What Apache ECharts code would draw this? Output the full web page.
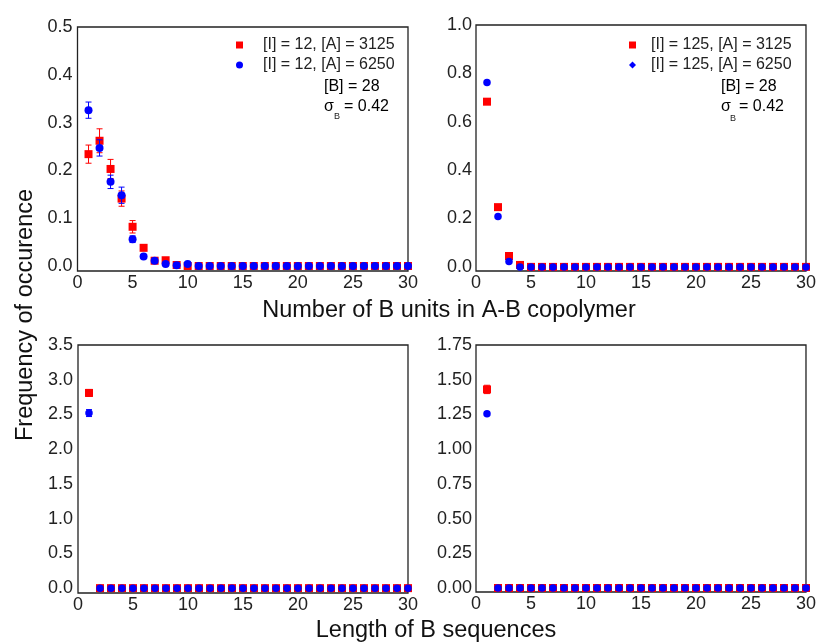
<!DOCTYPE html>
<html><head><meta charset="utf-8">
<script src="https://cdn.jsdelivr.net/npm/echarts@6/dist/echarts.min.js"></script>
<style>html,body{margin:0;padding:0;background:#fff}#c{width:819px;height:643px}</style>
</head><body><div id="c"></div>
<script>
// ---------- data ----------
const xPositions = [1,2,3,4,5,6,7,8,9,10,11,12,13,14,15,16,17,18,19,20,21,22,23,24,25,26,27,28,29,30];
const xTicks = [0,5,10,15,20,25,30];

// Top-left: number of B units, [I] = 12
const unitsI12A3125 = [0.234,0.262,0.203,0.141,0.082,0.038,0.011,0.012,0.002,0,0,0,0,0,0,0,0,0,0,0,0,0,0,0,0,0,0,0,0,0];
const unitsI12A3125Err = [0.019,0.025,0.020,0.016,0.013,0.006,0.003,0.003,0.002,0,0,0,0,0,0,0,0,0,0,0,0,0,0,0,0,0,0,0,0,0];
const unitsI12A6250 = [0.326,0.247,0.176,0.148,0.056,0.020,0.011,0.004,0.0015,0.004,0,0,0,0,0,0,0,0,0,0,0,0,0,0,0,0,0,0,0,0];
const unitsI12A6250Err = [0.017,0.017,0.014,0.017,0.007,0.004,0.002,0.002,0,0.002,0,0,0,0,0,0,0,0,0,0,0,0,0,0,0,0,0,0,0,0];

// Top-right: number of B units, [I] = 125
const unitsI125A3125 = [0.683,0.247,0.045,0.008,0,0,0,0,0,0,0,0,0,0,0,0,0,0,0,0,0,0,0,0,0,0,0,0,0,0];
const unitsI125A3125Err = [0.008,0.006,0.004,0.002,0,0,0,0,0,0,0,0,0,0,0,0,0,0,0,0,0,0,0,0,0,0,0,0,0,0];
const unitsI125A6250 = [0.762,0.208,0.022,0,0,0,0,0,0,0,0,0,0,0,0,0,0,0,0,0,0,0,0,0,0,0,0,0,0,0];
const unitsI125A6250Err = [0.006,0.005,0.003,0,0,0,0,0,0,0,0,0,0,0,0,0,0,0,0,0,0,0,0,0,0,0,0,0,0,0];

// Bottom-left: length of B sequences, [I] = 12 (zero entries start at length 2)
const lenI12A3125 = [2.81,0,0,0,0,0,0,0,0,0,0,0,0,0,0,0,0,0,0,0,0,0,0,0,0,0,0,0,0,0];
const lenI12A3125Err = [0.05,0,0,0,0,0,0,0,0,0,0,0,0,0,0,0,0,0,0,0,0,0,0,0,0,0,0,0,0,0];
const lenI12A6250 = [2.52,0,0,0,0,0,0,0,0,0,0,0,0,0,0,0,0,0,0,0,0,0,0,0,0,0,0,0,0,0];
const lenI12A6250Err = [0.05,0,0,0,0,0,0,0,0,0,0,0,0,0,0,0,0,0,0,0,0,0,0,0,0,0,0,0,0,0];

// Bottom-right: length of B sequences, [I] = 125
const lenI125A3125 = [1.43,0,0,0,0,0,0,0,0,0,0,0,0,0,0,0,0,0,0,0,0,0,0,0,0,0,0,0,0,0];
const lenI125A3125Err = [0.03,0,0,0,0,0,0,0,0,0,0,0,0,0,0,0,0,0,0,0,0,0,0,0,0,0,0,0,0,0];
const lenI125A6250 = [1.255,0,0,0,0,0,0,0,0,0,0,0,0,0,0,0,0,0,0,0,0,0,0,0,0,0,0,0,0,0];
const lenI125A6250Err = [0.012,0,0,0,0,0,0,0,0,0,0,0,0,0,0,0,0,0,0,0,0,0,0,0,0,0,0,0,0,0];

const yTicksTL = [0,0.1,0.2,0.3,0.4,0.5];
const yTicksTR = [0,0.2,0.4,0.6,0.8,1.0];
const yTicksBL = [0,0.5,1.0,1.5,2.0,2.5,3.0,3.5];
const yTicksBR = [0,0.25,0.5,0.75,1.0,1.25,1.5,1.75];

const names = {
  tlRed: '[I] = 12, [A] = 3125', tlBlue: '[I] = 12, [A] = 6250',
  trRed: '[I] = 125, [A] = 3125', trBlue: '[I] = 125, [A] = 6250'
};

// ---------- chart ----------
const FONT = '"Liberation Sans", Arial, Helvetica, sans-serif';
const RED = '#ff0000', BLUE = '#0000ff';
const chart = echarts.init(document.getElementById('c'));

function bars(ys, es){ return xPositions.map((x,i)=>[x, ys[i]-es[i], ys[i]+es[i]]).filter((d,i)=>es[i]>0); }
function errSeries(idx, ys, es, color, z){
  return {
    type:'custom', xAxisIndex:idx, yAxisIndex:idx, z:z, silent:true,
    encode:{x:0, y:[1,2]},
    data: bars(ys, es),
    renderItem:function(params, api){
      const x = api.value(0);
      const lo = api.coord([x, api.value(1)]);
      const hi = api.coord([x, api.value(2)]);
      const w = 3;
      const st = {stroke:color, lineWidth:1};
      return {type:'group', children:[
        {type:'line', shape:{x1:lo[0], y1:lo[1], x2:hi[0], y2:hi[1]}, style:st},
        {type:'line', shape:{x1:hi[0]-w, y1:hi[1], x2:hi[0]+w, y2:hi[1]}, style:st},
        {type:'line', shape:{x1:lo[0]-w, y1:lo[1], x2:lo[0]+w, y2:lo[1]}, style:st}
      ]};
    }
  };
}
function scat(idx, name, ys, color, symbol, size, z, skipZeroFirst){
  let data = xPositions.map((x,i)=>[x, ys[i]]);
  if (skipZeroFirst) data = data.filter(d=>!(d[0]===1 && d[1]===0));
  return {type:'scatter', name:name, xAxisIndex:idx, yAxisIndex:idx, z:z,
    symbol:symbol, symbolSize:size, itemStyle:{color:color, opacity:1}, data:data};
}
function xAx(idx){
  return {type:'value', gridIndex:idx, min:0, max:30, interval:5,
    axisLine:{show:false}, axisTick:{show:false}, splitLine:{show:false},
    axisLabel:{fontSize:18, color:'#222', fontFamily:FONT, margin:3, customValues:xTicks}};
}
function yAx(idx, min, max, ticks, dec, margin){
  return {type:'value', gridIndex:idx, min:min, max:max,
    axisLine:{show:false}, axisTick:{show:false}, splitLine:{show:false},
    axisLabel:{fontSize:18, color:'#222', fontFamily:FONT, margin:margin,
      customValues:ticks, formatter:v=>v.toFixed(dec)}};
}
const gridStyle = {show:true, borderColor:'#222', borderWidth:1.3, backgroundColor:'transparent'};

const legendText = {fontSize:16, color:'#222', fontFamily:FONT};
const titleStyle = {fontSize:23.5, fill:'#111', fontFamily:FONT, align:'center', verticalAlign:'middle'};

const option = {
  animation:false,
  backgroundColor:'#fff',
  grid:[
    Object.assign({left:77.5, top:27, width:330.5, height:244}, gridStyle),
    Object.assign({left:476, top:25, width:332, height:246}, gridStyle),
    Object.assign({left:78, top:345, width:330, height:248}, gridStyle),
    Object.assign({left:476, top:345, width:332, height:247}, gridStyle)
  ],
  xAxis:[xAx(0), xAx(1), xAx(2), xAx(3)],
  yAxis:[
    yAx(0, -0.0105, 0.5, yTicksTL, 1, 5),
    yAx(1, -0.017, 1.0, yTicksTR, 1, 4),
    yAx(2, -0.07, 3.5, yTicksBL, 1, 5),
    yAx(3, -0.029, 1.75, yTicksBR, 2, 4)
  ],
  legend:[
    {left:236, top:37, orient:'vertical', padding:0, itemWidth:7, itemHeight:7, itemGap:4,
     selectedMode:false, textStyle:Object.assign({padding:[0,0,0,15], lineHeight:16}, legendText),
     data:[{name:names.tlRed, icon:'rect'}, {name:names.tlBlue, icon:'circle'}]},
    {left:629, top:37, orient:'vertical', padding:0, itemWidth:7, itemHeight:7, itemGap:4,
     selectedMode:false, textStyle:Object.assign({padding:[0,0,0,10], lineHeight:16}, legendText),
     data:[{name:names.trRed, icon:'rect'}, {name:names.trBlue, icon:'diamond'}]}
  ],
  graphic:[
    {type:'text', left:324, top:79, style:Object.assign({text:'[B] = 28'}, legendText)},
    {type:'text', left:324, top:99, style:Object.assign({text:'σ'}, legendText)},
    {type:'text', left:334, top:112, style:{text:'B', fontSize:9, fill:'#222', fontFamily:FONT}},
    {type:'text', left:344, top:99, style:Object.assign({text:'= 0.42'}, legendText)},
    {type:'text', left:721, top:79, style:Object.assign({text:'[B] = 28'}, legendText)},
    {type:'text', left:721, top:99, style:Object.assign({text:'σ'}, legendText)},
    {type:'text', left:730, top:114, style:{text:'B', fontSize:9, fill:'#222', fontFamily:FONT}},
    {type:'text', left:739, top:99, style:Object.assign({text:'= 0.42'}, legendText)},
    {type:'text', x:449, y:311, style:Object.assign({text:'Number of B units in A-B copolymer'}, titleStyle)},
    {type:'text', x:436, y:631, style:Object.assign({text:'Length of B sequences'}, titleStyle)},
    {type:'text', x:26, y:315, rotation:Math.PI/2, style:Object.assign({text:'Frequency of occurence'}, titleStyle)}
  ],
  series:[
    errSeries(0, unitsI12A3125, unitsI12A3125Err, RED, 2),
    scat(0, names.tlRed, unitsI12A3125, RED, 'rect', 8, 3),
    errSeries(0, unitsI12A6250, unitsI12A6250Err, BLUE, 4),
    scat(0, names.tlBlue, unitsI12A6250, BLUE, 'circle', 8, 5),

    errSeries(1, unitsI125A3125, unitsI125A3125Err, RED, 2),
    scat(1, names.trRed, unitsI125A3125, RED, 'rect', 8, 3),
    errSeries(1, unitsI125A6250, unitsI125A6250Err, BLUE, 4),
    scat(1, names.trBlue, unitsI125A6250, BLUE, 'circle', 7.5, 5),

    errSeries(2, lenI12A3125, lenI12A3125Err, RED, 2),
    scat(2, 'len12red', lenI12A3125, RED, 'rect', 8, 3, true),
    errSeries(2, lenI12A6250, lenI12A6250Err, BLUE, 4),
    scat(2, 'len12blue', lenI12A6250, BLUE, 'circle', 7.5, 5, true),

    errSeries(3, lenI125A3125, lenI125A3125Err, RED, 2),
    scat(3, 'len125red', lenI125A3125, RED, 'rect', 8, 3, true),
    errSeries(3, lenI125A6250, lenI125A6250Err, BLUE, 4),
    scat(3, 'len125blue', lenI125A6250, BLUE, 'circle', 7.5, 5, true)
  ]
};
chart.setOption(option);
</script>
</body></html>
